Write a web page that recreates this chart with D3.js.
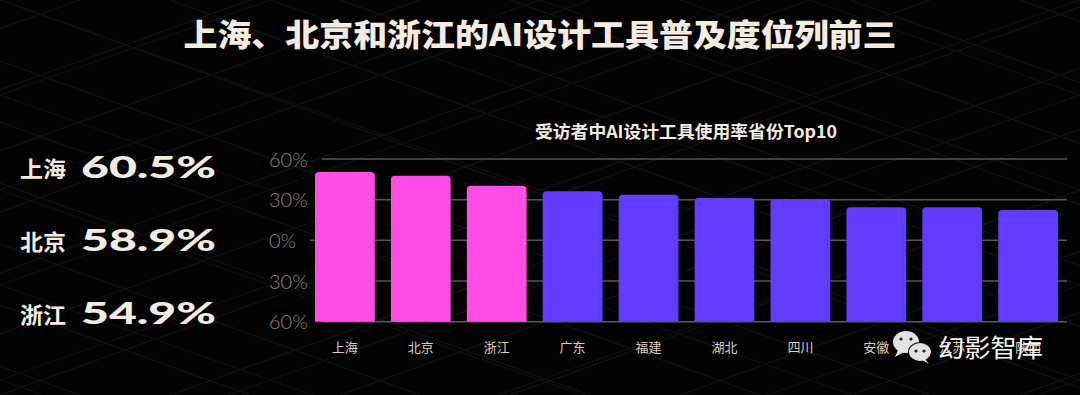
<!DOCTYPE html>
<html><head><meta charset="utf-8">
<script src="https://cdn.jsdelivr.net/npm/d3@7"></script>
<style>
html,body{margin:0;padding:0;background:#050404;}
svg{display:block;}
</style></head>
<body>
<svg id="c" width="1080" height="395"></svg>
<script>
// ---- data ----
const provinces = ["上海","北京","浙江","广东","福建","湖北","四川","安徽","江苏","陕西"];
const rates = [60.5, 58.9, 54.9, 52.7, 51.3, 50.0, 49.5, 46.2, 46.2, 45.1];
const highlighted = ["上海","北京","浙江"];
const tickLabels = ["60%","30%","0%","30%","60%"];
const topNames = ["上海","北京","浙江"];
const topValues = ["60.5%","58.9%","54.9%"];
const titleText = "上海、北京和浙江的AI设计工具普及度位列前三";
const subtitleText = "受访者中AI设计工具使用率省份Top10";
const watermarkText = "幻影智库";

const W = 1080, H = 395;
const cream = "#f3ebe0";
const svg = d3.select("#c");

svg.append("rect").attr("width", W).attr("height", H).attr("fill", "#040303");

// faint background lattice
const bg = svg.append("g").attr("stroke-width", 1).attr("fill", "none");
for (let i = -30; i < 30; i++) {
  const x0 = i * 170;
  bg.append("line").attr("x1", x0).attr("y1", 0).attr("x2", x0 + 1100).attr("y2", 395).attr("stroke", "#181614");
  bg.append("line").attr("x1", x0 + 1100).attr("y1", 0).attr("x2", x0).attr("y2", 395).attr("stroke", "#181614");
}
for (let i = -10; i < 14; i++) {
  const y0 = i * 95;
  bg.append("line").attr("x1", 0).attr("y1", y0).attr("x2", 1080).attr("y2", y0 + 380).attr("stroke", "#141211");
  bg.append("line").attr("x1", 0).attr("y1", y0 + 380).attr("x2", 1080).attr("y2", y0).attr("stroke", "#141211");
}

// title
svg.append("text").attr("x", 540).attr("y", 46).attr("text-anchor", "middle")
  .attr("font-family", "'Noto Sans CJK SC'").attr("font-weight", 900).attr("font-size", 31)
  .attr("fill", cream).attr("textLength", 713).attr("lengthAdjust", "spacingAndGlyphs")
  .text(titleText);

// left stats
const rowY = d3.scalePoint().domain(topNames).range([177, 323]);
const stats = svg.append("g");
topNames.forEach((n, i) => {
  stats.append("text").attr("x", 20).attr("y", rowY(n)).attr("font-family", "'Noto Sans CJK SC'")
    .attr("font-weight", 700).attr("font-size", 22).attr("fill", cream)
    .attr("textLength", 46).attr("lengthAdjust", "spacingAndGlyphs").text(n);
  stats.append("text").attr("x", 81).attr("y", rowY(n) + 1).attr("font-family", "Lato")
    .attr("font-weight", 900).attr("font-size", 30).attr("fill", cream)
    .attr("textLength", 135).attr("lengthAdjust", "spacingAndGlyphs").text(topValues[i]);
});

// subtitle
svg.append("text").attr("x", 686).attr("y", 138).attr("text-anchor", "middle")
  .attr("font-family", "'Noto Sans CJK SC'").attr("font-weight", 700).attr("font-size", 17)
  .attr("fill", cream).attr("textLength", 302).attr("lengthAdjust", "spacingAndGlyphs").text(subtitleText);

// scales
const x = d3.scaleBand().domain(provinces).range([315, 1058]).paddingInner(0.213).paddingOuter(0);
const y = d3.scaleLinear().domain([0, 65.7]).range([321.7, 159]);
const yLab = d3.scalePoint().domain(d3.range(tickLabels.length)).range([159, 321.7]);

// gridlines
const grid = svg.append("g");
tickLabels.forEach((t, i) => {
  grid.append("line").attr("x1", i === 2 ? 310 : 322).attr("x2", 1067)
    .attr("y1", yLab(i)).attr("y2", yLab(i)).attr("stroke", "#5d564f").attr("stroke-width", 1.5);
});

// y axis labels
const yAxis = d3.axisLeft(yLab).tickSize(0).tickFormat(i => tickLabels[i]);
const ga = svg.append("g").attr("transform", "translate(269,0)").call(yAxis);
ga.select(".domain").remove();
ga.selectAll("text").attr("x", 0).attr("text-anchor", "start").attr("dy", "0.36em")
  .attr("font-family", "Lato").attr("font-weight", 300).attr("font-size", 20).attr("fill", "#8d857c");

// bars with rounded tops
const r = 4;
function topRounded(x0, y0, w, h) {
  return `M${x0},${y0 + h}V${y0 + r}Q${x0},${y0} ${x0 + r},${y0}H${x0 + w - r}Q${x0 + w},${y0} ${x0 + w},${y0 + r}V${y0 + h}Z`;
}
svg.append("g").selectAll("path").data(provinces).join("path")
  .attr("d", (p, i) => topRounded(x(p), y(rates[i]), x.bandwidth(), y(0) - y(rates[i])))
  .attr("fill", p => highlighted.includes(p) ? "#ff4de6" : "#633dff");

// x labels
const xAxis = d3.axisBottom(x).tickSize(0);
const gx = svg.append("g").attr("transform", "translate(0,340)").call(xAxis);
gx.select(".domain").remove();
gx.selectAll("text").attr("font-family", "'Noto Sans CJK SC'").attr("font-size", 13)
  .attr("fill", "#d8cfc4").attr("dy", "0.71em");

// watermark
const wm = svg.append("g");
wm.append("ellipse").attr("cx", 906).attr("cy", 342).attr("rx", 13).attr("ry", 11).attr("fill", "#e2e2e2");
wm.append("path").attr("d", "M898,350 L895,357 L904,352 Z").attr("fill", "#e2e2e2");
wm.append("ellipse").attr("cx", 920).attr("cy", 352).attr("rx", 12).attr("ry", 10).attr("fill", "#050404");
wm.append("ellipse").attr("cx", 920).attr("cy", 352).attr("rx", 11).attr("ry", 9).attr("fill", "#e2e2e2");
wm.append("path").attr("d", "M925,359 L929,364 L922,360 Z").attr("fill", "#e2e2e2");
[[901,339],[911,339],[916,351],[924,351]].forEach(([cx, cy]) =>
  wm.append("circle").attr("cx", cx).attr("cy", cy).attr("r", 1.6).attr("fill", "#222"));
wm.append("text").attr("x", 938).attr("y", 357).attr("font-family", "'Noto Sans CJK SC'")
  .attr("font-size", 25).attr("fill", "#f4f4f4").attr("textLength", 105)
  .attr("lengthAdjust", "spacingAndGlyphs").text(watermarkText);
</script>
</body></html>
